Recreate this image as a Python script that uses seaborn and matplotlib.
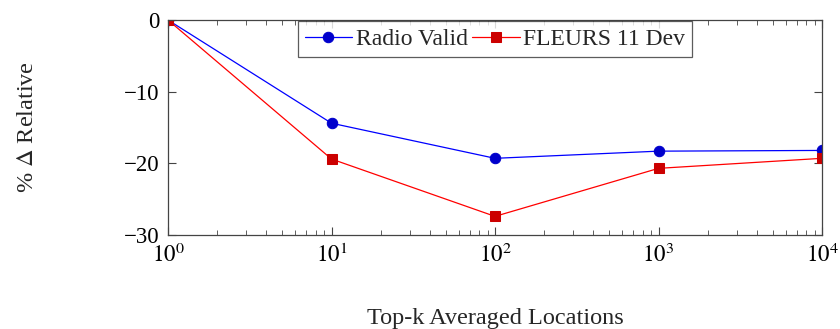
import numpy as np
import pandas as pd
import matplotlib
matplotlib.use("Agg")
import matplotlib.pyplot as plt
import seaborn as sns

# values
top_k = [1, 10, 100, 1000, 10000]
radio_valid = [0.0, -14.4, -19.3, -18.3, -18.2]
fleurs_dev = [0.0, -19.4, -27.4, -20.7, -19.3]
series_names = ["Radio Valid", "FLEURS 11 Dev"]

df = pd.DataFrame({
    "k": top_k * 2,
    "delta": radio_valid + fleurs_dev,
    "series": [series_names[0]] * len(top_k) + [series_names[1]] * len(top_k),
})

sns.set_theme(style="ticks")
plt.rcParams["font.family"] = ["Liberation Serif", "DejaVu Serif"]
plt.rcParams["mathtext.fontset"] = "stix"
plt.rcParams["font.size"] = 17

fig = plt.figure(figsize=(8.4, 3.29), dpi=100)
ax = fig.add_axes([0.2, 0.2857, 0.7786, 0.6535])

styles = {
    "Radio Valid": dict(color="#0000ff", marker="o", mfc="#0000cc", mec="#0000cc"),
    "FLEURS 11 Dev": dict(color="#ff0000", marker="s", mfc="#cc0000", mec="#cc0000"),
}
for name in series_names:
    st = styles[name]
    sns.lineplot(data=df[df["series"] == name], x="k", y="delta", ax=ax,
                 color=st["color"], lw=0.9, label=name,
                 marker=st["marker"], markersize=7.5,
                 markerfacecolor=st["mfc"], markeredgecolor=st["mec"])

ax.set_xscale("log")
ax.set_xlim(1, 10000)
ax.set_ylim(-30, 0)
ax.set_yticks([0, -10, -20, -30])
ax.set_yticklabels(["0", "\u221210", "\u221220", "\u221230"])
ax.set_xticks(top_k)
ax.set_xticklabels([r"$10^{%d}$" % i for i in range(5)])

for sp in ax.spines.values():
    sp.set_color("#444444")
    sp.set_linewidth(0.9)
ax.tick_params(which="both", direction="in", top=True, right=True,
               colors="#444444", labelcolor="black", labelsize=16.5)
ax.tick_params(which="major", length=6, width=0.8)
ax.tick_params(which="minor", length=3.5, width=0.6)
ax.tick_params(axis="x", pad=6)
ax.tick_params(axis="y", pad=6)

ax.set_xlabel("Top-k Averaged Locations", fontsize=17.5, labelpad=30)
ax.set_ylabel(r"% $\Delta$ Relative", fontsize=17.5, labelpad=62)

leg = ax.legend(loc="upper center", bbox_to_anchor=(0.5, 1.0), ncol=2,
                frameon=True, fancybox=False, fontsize=17,
                borderaxespad=0.05, handlelength=2.0, handletextpad=0.15,
                columnspacing=0.2, borderpad=0.3)
leg.get_frame().set_edgecolor("#333333")
leg.get_frame().set_linewidth(0.9)

fig.savefig("out.png", dpi=100)
